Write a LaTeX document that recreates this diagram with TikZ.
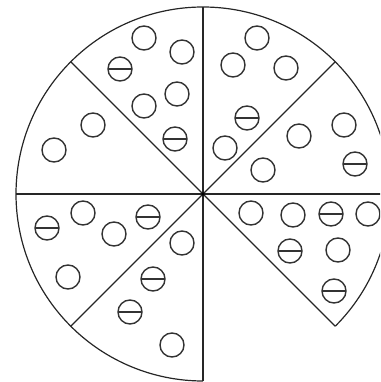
\documentclass[tikz,border=0pt]{standalone}
\usetikzlibrary{calc}
\begin{document}
\begin{tikzpicture}[x=1pt,y=1pt,
  edge/.style={draw=black!85,line width=1.2pt},
  dot/.style={circle,draw=black!80,line width=1.4pt,minimum size=24pt,inner sep=0pt},
  minus/.style={dot,path picture={\draw[black!80,line width=1.4pt] (path picture bounding box.west) -- (path picture bounding box.east);}}]
\useasboundingbox (0,0) rectangle (380,382);
\clip (0,0) rectangle (380,382);
\coordinate (O) at (203,188);
\foreach \a in {-45,0,45,90,135,180,225,270}{
  \coordinate (E\a) at ($(O)+(\a:187)$);
}
\draw[edge] (E-45) arc[start angle=-45,end angle=270,radius=187];
\foreach \a in {-45,0,45,90,135,180,225,270}{
  \draw[edge] (O) -- (E\a);
}
\fill[black] (O) circle (1.8pt);
% 90-135
\node[dot] (a1) at (144,344) {};
\node[dot] (a2) at (182,330) {};
\node[minus] (a3) at (120,313) {};
\node[dot] (a4) at (177,288) {};
\node[dot] (a5) at (144,276) {};
\node[minus] (a6) at (175,243) {};
% 135-180
\node[dot] (b1) at (93,257) {};
\node[dot] (b2) at (54,232) {};
% 45-90
\node[dot] (c1) at (257,344) {};
\node[dot] (c2) at (233,317) {};
\node[dot] (c3) at (286,314) {};
\node[minus] (c4) at (247,264) {};
\node[dot] (c5) at (225,234) {};
% 0-45
\node[dot] (d1) at (299,246) {};
\node[dot] (d2) at (344,257) {};
\node[minus] (d3) at (355,218) {};
\node[dot] (d4) at (263,212) {};
% 180-225
\node[minus] (e1) at (47,154) {};
\node[dot] (e2) at (83,169) {};
\node[dot] (e3) at (114,148) {};
\node[minus] (e4) at (148,165) {};
\node[dot] (e5) at (68,105) {};
% 225-270
\node[dot] (f1) at (182,139) {};
\node[minus] (f2) at (153,103) {};
\node[minus] (f3) at (130,70) {};
\node[dot] (f4) at (172,37) {};
% -45-0
\node[dot] (g1) at (251,169) {};
\node[dot] (g2) at (293,167) {};
\node[minus] (g3) at (331,168) {};
\node[dot] (g4) at (368,168) {};
\node[minus] (g5) at (290,131) {};
\node[dot] (g6) at (338,132) {};
\node[minus] (g7) at (334,91) {};
\end{tikzpicture}
\end{document}
